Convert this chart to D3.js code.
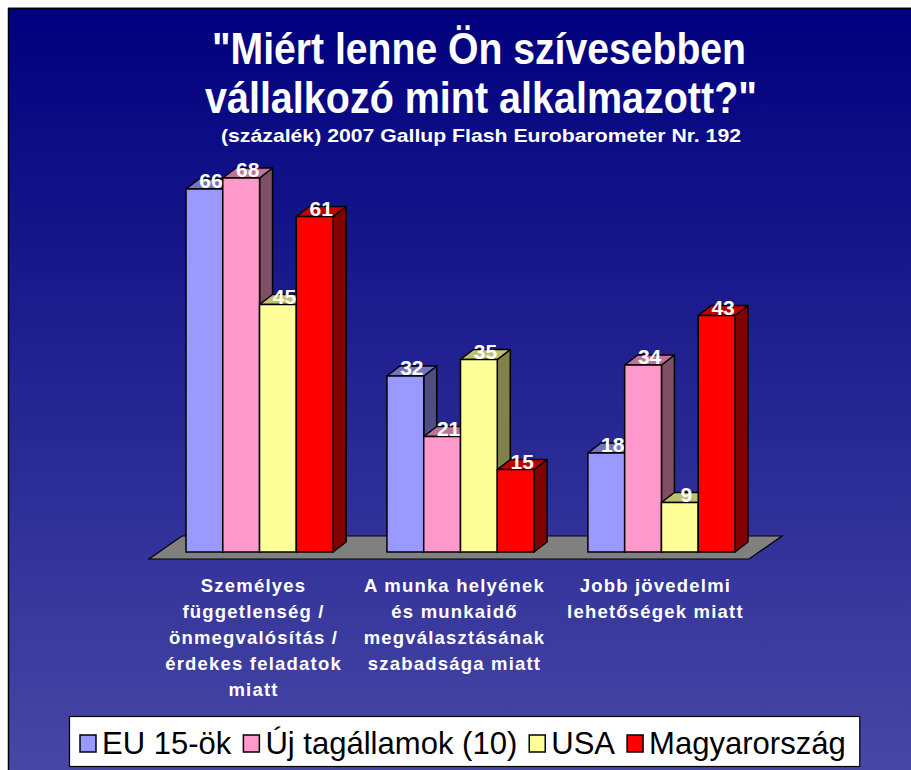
<!DOCTYPE html>
<html>
<head>
<meta charset="utf-8">
<script src="https://cdn.jsdelivr.net/npm/d3@7"></script>
<style>
  body { margin: 0; background: #fff; }
  svg { display: block; font-family: "Liberation Sans", Arial, sans-serif; }
</style>
</head>
<body>
<div id="chart"></div>
<script>
// data
const categories = [
    ["Személyes", "függetlenség /", "önmegvalósítás /", "érdekes feladatok", "miatt"],
    ["A munka helyének", "és munkaidő", "megválasztásának", "szabadsága miatt"],
    ["Jobb jövedelmi", "lehetőségek miatt"]
];
const seriesNames = ["EU 15-ök", "Új tagállamok (10)", "USA", "Magyarország"];
const eu15 = [66, 32, 18];
const ujTag = [68, 21, 34];
const usa = [45, 35, 9];
const magyar = [61, 15, 43];
const seriesColors = ["#9999ff", "#ff99cc", "#ffff99", "#ff0000"];

const width = 911, height = 770;
const depthX = 13, depthY = 10;

const seriesValues = [eu15, ujTag, usa, magyar];

const svg = d3.select('#chart').append('svg')
    .attr('width', width)
    .attr('height', height);

// background gradient
let defs = svg.append('defs');
let bg = defs.append('linearGradient').attr('id', 'bg')
    .attr('x1', 0).attr('y1', 0).attr('x2', 0).attr('y2', 1);
bg.append('stop').attr('offset', '0%').attr('stop-color', '#00007e');
bg.append('stop').attr('offset', '100%').attr('stop-color', '#4848a6');

svg.append('line')
    .attr('x1', 8).attr('x2', width).attr('y1', 7.5).attr('y2', 7.5)
    .attr('stroke', '#b0b0b0').attr('stroke-width', 1);
svg.append('rect')
    .attr('x', 8.5).attr('y', 8.5)
    .attr('width', width).attr('height', height)
    .attr('fill', 'url(#bg)')
    .attr('stroke', '#000').attr('stroke-width', 1.5);

// titles
svg.append('text')
    .attr('x', 479).attr('y', 64)
    .attr('text-anchor', 'middle')
    .attr('fill', '#fff').attr('font-weight', 'bold').attr('font-size', 44)
    .attr('textLength', 534).attr('lengthAdjust', 'spacingAndGlyphs')
    .text('"Miért lenne Ön szívesebben');
svg.append('text')
    .attr('x', 481).attr('y', 113)
    .attr('text-anchor', 'middle')
    .attr('fill', '#fff').attr('font-weight', 'bold').attr('font-size', 44)
    .attr('textLength', 552).attr('lengthAdjust', 'spacingAndGlyphs')
    .text('vállalkozó mint alkalmazott?"');
svg.append('text')
    .attr('x', 481).attr('y', 142)
    .attr('text-anchor', 'middle')
    .attr('fill', '#fff').attr('font-weight', 'bold').attr('font-size', 19)
    .attr('textLength', 520).attr('lengthAdjust', 'spacingAndGlyphs')
    .text('(százalék) 2007 Gallup Flash Eurobarometer Nr. 192');

// scales
let x = d3.scaleBand()
    .domain(d3.range(categories.length))
    .range([186, 735])
    .paddingInner(0.268)
    .paddingOuter(0);
let xs = d3.scaleBand()
    .domain(d3.range(seriesNames.length))
    .range([0, x.bandwidth()]);
let y = d3.scaleLinear()
    .domain([0, 100])
    .range([552, 2]);

// floor
let fx0 = x.range()[0], fx1 = x.range()[1];
let floorPts = [
    [fx0 - 37, y(0) + 7],
    [fx0 - 4, y(0) - 16],
    [fx1 + 47, y(0) - 16],
    [fx1 + 14, y(0) + 7]
];
svg.append('polygon')
    .attr('points', floorPts.map(p => p.join(',')).join(' '))
    .attr('fill', '#808080')
    .attr('stroke', '#000').attr('stroke-width', 1.2);

// bars
let bars = [];
categories.forEach((c, ci) => {
    seriesValues.forEach((vals, si) => {
        bars.push({cat: ci, s: si, value: vals[ci]});
    });
});

let barG = svg.append('g');
bars.forEach(d => {
    let x0 = x(d.cat) + xs(d.s);
    let x1 = x0 + xs.bandwidth();
    let yt = y(d.value), yb = y(0);
    let col = d3.color(seriesColors[d.s]);
    let g = barG.append('g');
    // side face
    g.append('polygon')
        .attr('points', [[x1, yb], [x1, yt], [x1 + depthX, yt - depthY], [x1 + depthX, yb - depthY]].map(p => p.join(',')).join(' '))
        .attr('fill', col.darker(1.9))
        .attr('stroke', '#000').attr('stroke-width', 1.5).attr('stroke-linejoin', 'round');
    // top face
    g.append('polygon')
        .attr('points', [[x0, yt], [x0 + depthX, yt - depthY], [x1 + depthX, yt - depthY], [x1, yt]].map(p => p.join(',')).join(' '))
        .attr('fill', col.darker(0.8))
        .attr('stroke', '#000').attr('stroke-width', 1.5).attr('stroke-linejoin', 'round');
    // front face
    g.append('rect')
        .attr('x', x0).attr('y', yt)
        .attr('width', xs.bandwidth()).attr('height', yb - yt)
        .attr('fill', col)
        .attr('stroke', '#000').attr('stroke-width', 1.5);
});

// value labels
svg.append('g').selectAll('text')
    .data(bars)
    .enter()
    .append('text')
    .attr('x', d => x(d.cat) + xs(d.s) + xs.bandwidth() / 2 + depthX / 2)
    .attr('y', d => y(d.value) - 1)
    .attr('text-anchor', 'middle')
    .attr('fill', '#fff').attr('font-weight', 'bold').attr('font-size', 21)
    .text(d => d.value);

// category labels
categories.forEach((lines, ci) => {
    let t = svg.append('text')
        .attr('text-anchor', 'middle')
        .attr('fill', '#fff').attr('font-weight', 'bold').attr('font-size', 18.5)
        .attr('letter-spacing', 1.2);
    lines.forEach((ln, li) => {
        t.append('tspan')
            .attr('x', x(ci) + x.bandwidth() / 2 - 6)
            .attr('y', 592 + li * 26)
            .text(ln);
    });
});

// legend
let leg = svg.append('g');
let legBox = leg.append('rect')
    .attr('x', 69.5).attr('y', 716.5)
    .attr('height', 50)
    .attr('fill', '#fff')
    .attr('stroke', '#000').attr('stroke-width', 1.2);
let lx = 80;
seriesNames.forEach((name, i) => {
    leg.append('rect')
        .attr('x', lx).attr('y', 735)
        .attr('width', 16).attr('height', 17)
        .attr('fill', seriesColors[i])
        .attr('stroke', '#000').attr('stroke-width', 1.5);
    let t = leg.append('text')
        .attr('x', lx + 22).attr('y', 754)
        .attr('font-size', 32)
        .attr('fill', '#000')
        .text(name);
    let w = t.node().getComputedTextLength() * 0.97;
    t.attr('textLength', w).attr('lengthAdjust', 'spacingAndGlyphs');
    lx += 22 + w + 12;
});
legBox.attr('width', lx - 12 + 14 - 69.5);
</script>
</body>
</html>
